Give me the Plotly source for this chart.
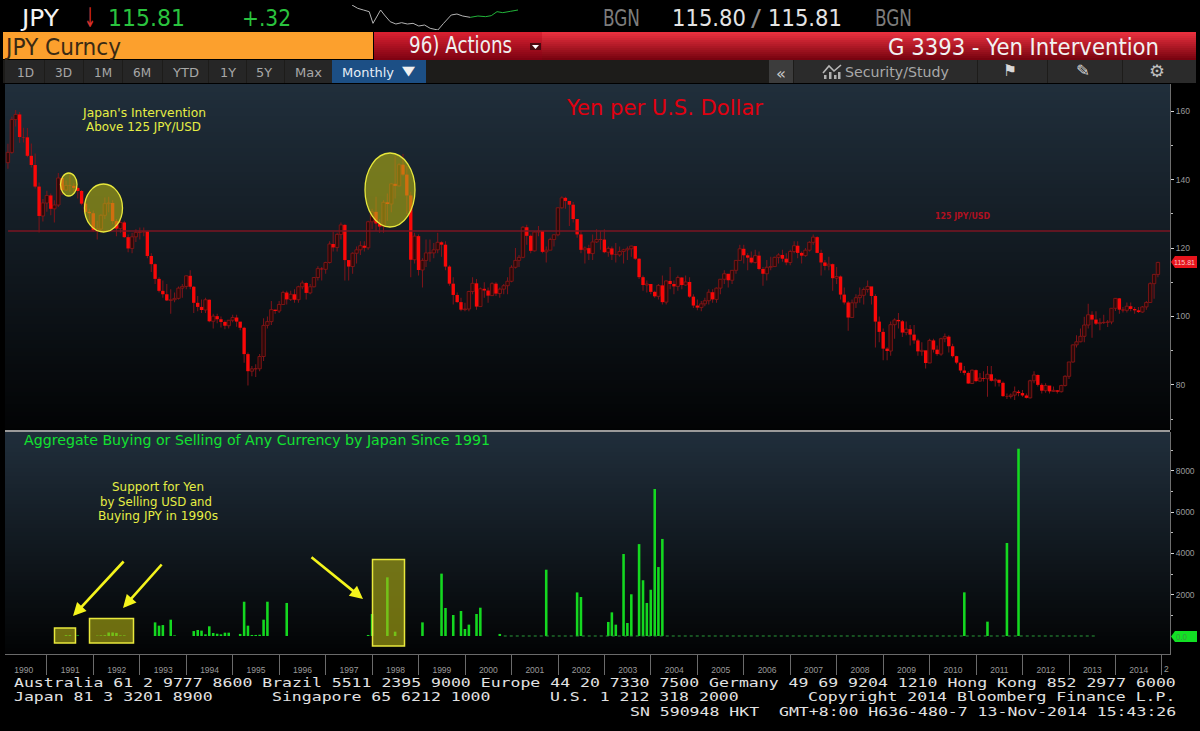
import json
import pandas as pd
import plotly.graph_objects as go

# ---------- data ----------
first_open = 145.0
closes = [
 148.0,157.6,159.1,152.5,152.4,147.0,144.3,138.0,129.4,133.2,135.4,
 131.5,132.6,140.5,137.0,138.3,138.2,137.6,136.7,133.0,130.6,130.2,125.2,
 125.6,129.6,133.0,133.2,127.9,125.7,127.5,123.2,119.9,123.3,124.6,124.7,
 124.9,117.7,115.3,111.0,107.5,106.5,104.7,104.9,105.3,108.3,108.8,111.9,
 108.7,104.0,102.8,101.9,104.9,98.6,100.1,99.2,98.4,97.3,98.9,99.7,
 98.5,96.7,89.0,84.0,84.7,84.7,88.3,97.4,98.5,102.0,101.6,103.5,
 107.0,105.0,106.5,104.9,108.7,109.8,106.9,108.7,111.4,114.0,113.8,115.8,
 121.2,120.2,124.0,126.8,116.5,114.6,118.5,119.5,120.7,120.1,127.7,130.6,
 127.2,126.3,133.4,132.9,138.8,138.2,144.4,141.5,135.4,116.6,123.5,113.6,
 116.4,118.6,118.6,119.5,121.7,121.0,114.6,109.6,106.3,104.2,102.0,102.2,
 107.3,109.7,102.9,108.1,107.6,106.1,109.6,106.7,108.0,109.0,110.3,114.4,
 116.4,117.3,126.1,123.6,119.2,124.7,125.0,118.9,119.4,122.5,123.9,131.8,
 134.7,133.8,132.7,128.5,124.0,119.5,120.0,118.4,121.8,122.5,122.5,118.8,
 119.9,118.1,118.0,119.0,119.5,119.8,120.6,116.9,111.5,109.2,109.5,107.2,
 105.9,109.1,104.2,110.4,109.5,108.8,111.4,109.2,110.1,105.8,103.2,102.6,
 103.7,104.6,107.1,105.0,108.3,110.9,112.5,110.6,113.5,116.4,119.8,117.9,
 117.2,115.8,117.8,113.9,112.5,114.4,114.6,117.3,118.0,116.9,115.8,119.0,
 120.7,118.6,117.8,119.4,121.7,123.2,118.6,115.8,114.8,115.3,111.2,111.7,
 106.4,104.1,99.7,104.0,105.5,106.2,107.9,108.8,106.0,98.5,95.5,90.6,
 89.9,97.6,99.0,98.6,95.3,96.3,94.7,93.0,89.8,90.1,86.4,93.0,
 90.3,89.0,93.5,94.1,91.3,88.4,86.5,84.2,83.5,80.4,84.3,81.1,
 82.0,81.8,83.1,81.2,81.5,80.6,76.7,76.6,77.0,78.0,77.6,76.9,
 76.2,81.2,82.9,80.0,78.3,79.8,78.1,78.4,78.0,79.8,82.5,86.7,
 91.7,92.6,94.2,97.5,100.5,99.1,97.9,98.2,98.3,98.4,102.4,105.3,
 102.0,101.8,103.0,102.2,101.8,101.3,102.8,104.1,109.6,112.3,115.81,
]
highs = [
 150.5,158.4,160.4,159.8,155.2,155.1,150.6,147.7,139.2,134.4,136.8,
 136.0,134.0,142.0,141.0,139.8,141.5,139.0,138.0,137.0,134.0,131.5,131.0,
 128.0,130.0,134.8,135.0,134.0,128.5,128.8,128.0,124.0,124.5,125.5,126.0,
 126.0,125.0,118.5,115.5,111.5,110.5,109.5,108.0,107.0,108.8,109.5,112.0,
 113.5,108.9,106.0,105.0,105.5,105.0,100.8,100.8,100.0,98.8,99.0,100.5,
 100.5,98.0,97.0,89.5,85.5,86.0,89.0,99.5,100.0,104.5,102.0,104.5,
 107.5,107.5,107.5,108.0,109.0,110.5,110.0,109.5,111.5,114.7,114.5,116.0,
 122.0,124.8,124.5,127.5,127.0,116.5,118.8,120.5,122.0,122.0,128.0,131.5,
 135.0,128.5,134.0,136.0,139.0,147.0,144.8,147.5,144.0,136.5,124.5,124.0,
 117.0,122.5,122.5,121.5,124.5,122.0,122.0,115.0,111.5,107.0,105.5,104.0,
 107.5,111.5,111.0,108.5,110.0,108.5,110.0,110.0,108.5,109.5,111.5,115.0,
 120.0,118.0,126.5,126.8,124.0,125.0,126.5,125.0,120.5,123.0,124.0,131.8,
 135.2,135.0,133.5,133.5,128.5,125.0,120.5,121.0,124.0,125.5,125.0,125.5,
 120.5,120.5,121.5,120.5,119.8,120.5,120.7,120.5,117.0,112.0,110.5,109.5,
 107.5,109.5,112.0,110.5,114.5,110.5,112.0,111.5,112.0,111.5,106.5,105.0,
 104.5,105.5,108.0,108.0,108.5,111.0,113.5,112.0,113.5,116.5,121.0,121.0,
 118.5,119.0,119.5,119.0,114.5,116.5,117.5,117.5,118.5,119.5,118.5,119.5,
 122.0,122.0,119.0,120.0,122.0,124.0,123.5,119.5,116.5,117.5,115.5,114.5,
 112.0,108.5,104.5,105.0,106.5,108.5,108.5,110.5,108.5,106.5,100.0,96.5,
 91.0,98.5,99.5,101.0,99.0,98.5,97.5,97.5,93.5,92.5,90.0,93.5,
 93.5,91.5,93.8,95.0,94.5,92.0,88.5,86.5,85.5,84.0,84.5,84.5,
 83.5,84.0,85.5,85.5,82.0,81.5,81.0,77.5,77.5,79.5,78.5,78.5,
 77.5,81.5,84.0,83.0,80.5,80.5,79.5,79.5,78.5,80.0,82.8,86.7,
 91.8,94.5,96.5,99.9,103.7,101.5,101.5,99.5,100.5,99.0,102.5,105.4,
 105.4,102.8,104.1,104.1,102.8,102.8,103.1,104.5,110.0,112.5,116.0,
]
lows = [
 143.2,147.6,155.6,150.8,150.9,146.6,143.6,137.4,124.6,127.8,130.6,
 129.6,127.5,132.0,135.5,136.8,136.5,136.0,134.5,132.5,129.5,128.0,124.8,
 122.5,124.5,128.5,130.5,127.0,123.5,124.5,123.0,118.8,118.5,121.8,122.5,
 123.5,117.0,113.0,109.5,107.0,105.5,104.5,100.8,104.2,105.0,105.5,108.0,
 108.0,101.0,101.5,101.0,101.0,98.3,96.5,98.0,96.8,96.3,96.5,98.3,
 97.0,96.0,86.5,79.8,82.5,82.3,84.0,87.0,96.5,97.5,100.8,101.0,
 103.5,103.5,104.5,104.0,104.0,108.0,105.0,106.5,108.5,110.5,110.5,112.5,
 115.5,119.0,119.0,122.5,110.5,110.5,112.5,115.5,118.0,119.0,119.5,125.5,
 125.0,124.5,124.5,128.0,130.5,134.5,138.0,141.0,130.0,111.5,115.5,112.0,
 108.5,114.5,116.0,117.0,118.5,117.5,113.5,109.0,103.5,104.0,101.5,101.5,
 101.5,106.5,102.0,103.5,105.5,104.0,106.0,106.0,105.5,106.5,106.5,110.0,
 114.0,114.5,117.0,121.0,118.5,119.0,123.5,118.5,115.8,119.5,120.5,123.5,
 131.5,131.5,126.5,127.5,123.0,118.5,115.5,116.5,116.5,121.5,119.5,118.5,
 117.5,116.5,115.8,117.5,115.5,116.5,117.5,116.5,111.0,107.5,107.0,106.5,
 105.5,105.0,103.5,103.5,108.0,106.5,107.5,108.0,109.0,105.5,102.5,101.8,
 101.5,103.0,103.5,104.0,104.0,106.5,109.5,108.5,109.5,112.5,116.5,115.5,
 113.5,115.5,115.5,113.5,109.0,110.5,113.5,114.5,115.5,116.0,115.0,115.0,
 118.5,117.0,115.5,117.5,119.0,121.0,118.5,112.0,113.5,113.5,107.5,109.5,
 105.0,103.5,95.8,100.0,102.5,104.0,103.5,107.0,103.5,90.9,92.5,87.2,
 87.2,88.5,93.5,96.5,94.0,94.5,91.5,92.0,88.5,88.5,84.8,86.5,
 89.5,88.5,88.5,92.5,89.5,88.0,86.0,83.5,82.8,80.3,80.3,80.8,
 81.0,81.0,76.5,81.0,79.5,79.5,76.5,75.9,76.0,75.6,76.7,76.5,
 76.0,76.0,80.5,79.5,77.5,77.7,77.5,78.0,77.5,77.8,79.5,81.7,
 86.5,90.9,92.5,92.5,96.5,93.8,97.5,96.0,97.8,96.9,97.7,101.6,
 100.8,101.2,101.2,101.5,100.8,101.0,101.1,102.0,104.0,105.2,111.5,
]
opens = [first_open] + closes[:-1]
candle_dates = pd.date_range("1990-02-28", periods=len(closes), freq="ME").strftime("%Y-%m-%d").tolist()

bar_dates = [
 "1991-05-31","1991-06-30","1991-08-31",
 "1992-01-31","1992-02-29","1992-03-31","1992-04-30","1992-05-31","1992-06-30","1992-07-31","1992-08-31",
 "1993-04-30","1993-05-31","1993-06-30","1993-08-31","1993-09-30",
 "1994-02-28","1994-03-31","1994-04-30","1994-05-31","1994-06-30","1994-07-31","1994-08-31","1994-09-30","1994-10-31","1994-11-30",
 "1995-02-28","1995-03-31","1995-04-30","1995-05-31","1995-06-30","1995-07-31","1995-08-31","1995-09-30",
 "1996-02-29","1997-11-30","1997-12-31","1998-04-30","1998-06-30",
 "1999-01-31","1999-06-30","1999-07-31","1999-09-30","1999-11-30","1999-12-31",
 "2000-01-31","2000-03-31","2000-04-30","2000-09-30",
 "2001-09-30","2002-05-31","2002-06-30",
 "2003-01-31","2003-02-28","2003-03-31","2003-05-31","2003-06-30","2003-07-31","2003-09-30","2003-10-31","2003-11-30","2003-12-31",
 "2004-01-31","2004-02-29","2004-03-31",
 "2010-09-30","2011-03-31","2011-08-31","2011-11-30",
]
bar_values = [
 40,40,30,
 20,30,40,170,170,150,30,30,
 660,500,530,790,30,
 240,290,260,80,470,145,110,80,160,160,
 100,1660,500,50,50,60,790,1660,
 1600,50,1065,2840,210,
 660,3020,1355,1017,1210,340,
 550,1065,1370,100,
 3210,2110,1890,
 680,1145,550,3970,630,2020,4450,2700,1600,2240,
 7120,3340,4700,
 2114,694,4503,9070,
]
zero_dates = ["2000-10-31", "2013-07-31"]
zero_values = [0, 0]
level_dates = ["1990-03-01", "2015-03-05"]
level_values = [125, 125]

spark_x = [0,15,30,45,55,65,75,85,100,115,130,145,160,175,190,205,225,240,260,275,290,310,330,350,365,380,395,415,435]
spark_y = [85,75,70,65,30,50,70,55,35,28,32,28,30,22,25,15,10,30,55,58,52,48,52,50,53,65,62,66,70]
spark_split = 22

upper_ticks = [80, 100, 120, 140, 160]
lower_ticks = [2000, 4000, 6000, 8000]

W, H = 1200, 731
fx = lambda x: x / W
fy = lambda y: 1 - y / H

PX_L, PX_R = 5, 1170
UP_T, UP_B = 84, 430
LO_T, LO_B = 432, 654

shapes = []
annos = []
widths = []


def rect(x0, y0, x1, y1, fill, line=None, lw=0, layer="below"):
    shapes.append(dict(type="rect", xref="paper", yref="paper", x0=fx(x0), x1=fx(x1), y0=fy(y0), y1=fy(y1),
                       fillcolor=fill, line=dict(color=line or fill, width=lw), layer=layer))


def lerp_hex(c0, c1, t):
    return "#" + "".join(f"{round(a + (b - a) * t):02x}" for a, b in zip(c0, c1))


def vgrad(x0, y0, x1, y1, c0, c1, step=4):
    y = y0
    while y < y1:
        y2 = min(y + step, y1)
        rect(x0, y, x1, y2, lerp_hex(c0, c1, (y - y0) / max(1, y1 - y0)))
        y = y2


def txt(s, x, y, size, color, width=None, family="DejaVu Sans", weight=None):
    font = dict(family=family, size=size, color=color)
    if weight:
        font["weight"] = weight
    annos.append(dict(text=s, xref="paper", yref="paper", x=fx(x), y=fy(y), xanchor="left", yanchor="middle",
                      align="left", showarrow=False, borderpad=0, borderwidth=0, font=font))
    widths.append(width)


def arrow(x0, y0, x1, y1):
    annos.append(dict(text="", xref="paper", yref="paper", x=fx(x1), y=fy(y1), ax=x0 - x1, ay=y0 - y1,
                      showarrow=True, arrowcolor="#f4f41c", arrowwidth=2.6, arrowhead=2, arrowsize=1))
    widths.append(None)


def poly(points, fill):
    path = "M" + " L".join(f"{fx(a)},{fy(b)}" for a, b in points) + " Z"
    shapes.append(dict(type="path", xref="paper", yref="paper", path=path, fillcolor=fill,
                       line=dict(color=fill, width=0), layer="above"))


def tag(x0, y0, x1, y1, fill):
    mid = (y0 + y1) / 2
    poly([(x0, mid), (x0 + 4, y0), (x1, y0), (x1, y1), (x0 + 4, y1)], fill)


# ---------- chrome ----------
vgrad(PX_L, UP_T, PX_R, UP_B, (0x20, 0x2e, 0x3b), (0x02, 0x03, 0x04))
vgrad(PX_L, LO_T, PX_R, LO_B, (0x20, 0x2e, 0x3b), (0x02, 0x03, 0x04))
rect(PX_L, 430, PX_R, 432, "#9a9a9a")

rect(3, 32, 373, 59, "#fca02d")
vgrad(374, 32, 1196, 60, (0xe8, 0x30, 0x3e), (0x70, 0x00, 0x0c), step=2)
vgrad(374, 32, 542, 60, (0xd8, 0x20, 0x30), (0x78, 0x00, 0x10), step=2)
rect(530, 43, 541, 50, "#4a0a10")
poly([(532, 45), (539, 45), (535.5, 49)], "#ffffff")

rect(3, 60, 1196, 83, "#1d1c1a")
for x0, x1 in [(5, 44), (45, 83), (84, 122), (123, 162), (163, 208), (209, 246), (247, 284), (285, 332)]:
    rect(x0, 60, x1, 83, "#262626")
rect(332, 60, 426, 83, "#1c4f85")
rect(769, 60, 793, 83, "#3c3c3c")
for x0, x1 in [(794, 977), (978, 1047), (1048, 1122), (1123, 1196)]:
    rect(x0, 60, x1, 83, "#2b2b2b")

txt("JPY", 20, 18, 23, "#f4f4f4", 37)
txt("↓", 84, 18, 27, "#d8302c", 12)
txt("115.81", 108, 18, 23, "#2ac33e", 77)
txt("+.32", 242, 18, 23, "#2ac33e", 49)
txt("BGN", 603, 18, 23, "#7c7c7c", 37)
txt("115.80", 672, 18, 23, "#e4e4e4", 74)
txt("/", 751, 18, 23, "#8c8c8c", 10)
txt("115.81", 768, 18, 23, "#e4e4e4", 74)
txt("BGN", 875, 18, 23, "#7c7c7c", 37)
txt("JPY Curncy", 4, 47, 23, "#3a2a14", 115)
txt("96) Actions", 409, 45, 23, "#f0f0f0", 103)
txt("G 3393 - Yen Intervention", 888, 47, 23, "#f2f2f2", 271)

for label, cx, w in [("1D", 25, 17), ("3D", 63, 17), ("1M", 103, 18), ("6M", 142, 18), ("YTD", 185, 26),
                     ("1Y", 228, 16), ("5Y", 264, 16), ("Max", 308, 27)]:
    txt(label, cx - w / 2, 72, 13, "#a8a8a8", w)
txt("Monthly", 342, 72, 13, "#e6eef6", 52)
txt("▼", 402, 71, 13, "#f0f0f0", 13)
txt("«", 776, 73, 16, "#c8c8c8", 10)
txt("Security/Study", 845, 72, 13.5, "#a8a8a8", 104)
txt("⚑", 1003, 71, 16, "#d8d8d8", 14)
txt("✎", 1076, 71, 16, "#d8d8d8", 14)
txt("⚙", 1149, 71, 17, "#c0c0c0", 16)
shapes.append(dict(type="path", xref="paper", yref="paper",
                   path=f"M{fx(823)},{fy(73)} L{fx(829)},{fy(66)} L{fx(834)},{fy(71)} L{fx(841)},{fy(65)}",
                   line=dict(color="#b8b8b8", width=1.6), layer="above"))
for bx, top in [(824, 75), (829, 72), (834, 75), (838, 72)]:
    rect(bx, top, bx + 2.5, 79, "#b0b0b0", layer="above")

txt("Japan's Intervention", 82, 113, 12, "#e6ee44", 123)
txt("Above 125 JPY/USD", 86, 127, 12, "#e6ee44", 115)
txt("Yen per U.S. Dollar", 566, 108, 21, "#e00010", 196)
txt("125 JPY/USD", 935, 216, 9, "#b01020", 55, weight=700)
txt("Aggregate Buying or Selling of Any Currency by Japan Since 1991", 24, 440, 14, "#12e030", 466)
txt("Support for Yen", 112, 487, 12.5, "#e6ee44", 92)
txt("by Selling USD and", 100, 501, 12.5, "#e6ee44", 112)
txt("Buying JPY in 1990s", 98, 515, 12.5, "#e6ee44", 120)
arrow(125, 560, 73, 616)
arrow(163, 563, 123, 608)
arrow(310, 556, 363, 599)

HL_FILL = "rgba(180,178,20,0.6)"
HL_LINE = "#e8e83c"
for x0, y0, x1, y1 in [(60.5, 173, 77, 196), (84.5, 184, 122.5, 232), (365, 153, 415, 227)]:
    shapes.append(dict(type="circle", xref="paper", yref="paper", x0=fx(x0), x1=fx(x1), y0=fy(y0), y1=fy(y1),
                       fillcolor=HL_FILL, line=dict(color=HL_LINE, width=1.3), layer="above"))
for x0, y0, x1, y1 in [(54.5, 628, 75.5, 643), (89.5, 618.5, 133.5, 643), (372.5, 559.5, 404.5, 646)]:
    rect(x0, y0, x1, y1, HL_FILL, line=HL_LINE, lw=1.5, layer="above")

tag(1171, 256, 1197, 268, "#e8141c")
txt("115.81", 1174, 262, 8, "#f8c8c8", 21, family="Liberation Sans")
tag(1171, 631, 1197, 642, "#12e024")
txt("0.0", 1176, 636.5, 8.5, "#3a9a40", 11, family="Liberation Sans")
txt("2", 1164, 669, 8.5, "#9a9a9a", family="Liberation Sans")

MONO = "DejaVu Sans Mono"
CHAR = 9.93
for s, x, y in [
    ("Australia 61 2 9777 8600 Brazil 5511 2395 9000 Europe 44 20 7330 7500 Germany 49 69 9204 1210 Hong Kong 852 2977 6000", 14, 682.5),
    ("Japan 81 3 3201 8900", 14, 697),
    ("Singapore 65 6212 1000", 272, 697),
    ("U.S. 1 212 318 2000", 550, 697),
    ("Copyright 2014 Bloomberg Finance L.P.", 808, 697),
    ("SN 590948 HKT", 630, 711.5),
    ("GMT+8:00 H636-480-7 13-Nov-2014 15:43:26", 779, 711.5),
]:
    txt(s, x, y, 12, "#e2e2e2", round(len(s) * CHAR, 1), family=MONO)

# ---------- traces ----------
up = [i for i in range(len(closes)) if closes[i] >= opens[i]]
down = [i for i in range(len(closes)) if closes[i] < opens[i]]
BODY_MS = 2.3e9
WICK_MS = 6.8e8


def range_trace(idx, lo, hi, width, fill, line=None, lw=0):
    return go.Bar(
        x=[candle_dates[i] for i in idx],
        base=[lo[i] for i in idx],
        y=[hi[i] - lo[i] for i in idx],
        width=width, xaxis="x", yaxis="y",
        marker=dict(color=fill, line=dict(color=line or fill, width=lw)), hoverinfo="skip")


body_lo = [min(o, c) for o, c in zip(opens, closes)]
body_hi = [max(o, c) for o, c in zip(opens, closes)]
all_idx = list(range(len(closes)))

fig = go.Figure()
fig.add_trace(range_trace(all_idx, lows, highs, WICK_MS, "#80141a"))
fig.add_trace(range_trace(up, body_lo, body_hi, BODY_MS, "#2a0a0a", "#8e1616", 0.8))
fig.add_trace(range_trace(down, body_lo, body_hi, BODY_MS, "#fa0808"))
fig.add_trace(go.Scatter(x=level_dates, y=level_values, mode="lines", xaxis="x", yaxis="y",
                         line=dict(color="#7a1422", width=1.6), hoverinfo="skip"))
fig.add_trace(go.Scatter(x=zero_dates, y=zero_values, mode="lines", xaxis="x2", yaxis="y2",
                         line=dict(color="#2a9a3a", width=1, dash="dot"), hoverinfo="skip"))
fig.add_trace(go.Bar(x=bar_dates, y=bar_values, xaxis="x2", yaxis="y2", width=1.75e9,
                     marker=dict(color="#14d820", line=dict(width=0)), hoverinfo="skip"))
fig.add_trace(go.Scatter(x=spark_x[:spark_split], y=spark_y[:spark_split], mode="lines", xaxis="x3", yaxis="y3",
                         line=dict(color="#b4b4b4", width=1), hoverinfo="skip"))
fig.add_trace(go.Scatter(x=spark_x[spark_split - 1:], y=spark_y[spark_split - 1:], mode="lines", xaxis="x3", yaxis="y3",
                         line=dict(color="#22b43a", width=1), hoverinfo="skip"))

x_range = ["1990-02-05", "2015-03-05"]
tick_font = dict(family="Liberation Sans", size=8.5, color="#9a9a9a")
y_common = dict(side="right", showgrid=False, zeroline=False, showline=True, linecolor="#6e6e6e", linewidth=1,
                ticks="outside", ticklen=3, tickcolor="#d8d8d8", tickfont=tick_font, fixedrange=True)

fig.update_layout(
    width=W, height=H, margin=dict(l=0, r=0, t=0, b=0), autosize=False,
    paper_bgcolor="#000000", plot_bgcolor="rgba(0,0,0,0)", showlegend=False, barmode="overlay",
    shapes=shapes, annotations=annos,
    xaxis=dict(domain=[fx(PX_L), fx(PX_R)], anchor="y", range=x_range, type="date", visible=False,
               matches="x2"),
    yaxis=dict(domain=[fy(UP_B), fy(UP_T)], anchor="x", range=[66.8, 168], tickvals=upper_ticks,
               minor=dict(tickvals=[70, 90, 110, 130, 150], ticks="outside", ticklen=2, tickcolor="#bbbbbb"),
               **y_common),
    xaxis2=dict(domain=[fx(PX_L), fx(PX_R)], anchor="y2", range=x_range, type="date", tick0="1991-01-01",
                dtick="M12", tickformat="%Y", ticklabelmode="period", ticks="outside", ticklen=20,
                ticklabelstandoff=-12, tickcolor="#6a6a6a", showline=True, linecolor="#6a6a6a", showgrid=False,
                zeroline=False, tickfont=tick_font, fixedrange=True),
    yaxis2=dict(domain=[fy(LO_B), fy(LO_T)], anchor="x2", range=[-872, 9879], tickvals=lower_ticks,
                minor=dict(tickvals=[1000, 3000, 5000, 7000, 9000], ticks="outside", ticklen=2, tickcolor="#bbbbbb"),
                **y_common),
    xaxis3=dict(domain=[fx(352), fx(518)], anchor="y3", range=[0, 435], visible=False, fixedrange=True),
    yaxis3=dict(domain=[fy(30), fy(5)], anchor="x3", range=[10, 85], visible=False, fixedrange=True),
)

post = """
document.body.style.margin='0';
document.body.style.background='#000';
document.documentElement.style.overflow='hidden';
var W=%s;
document.querySelectorAll('.annotation').forEach(function(g){
  var w=W[+g.getAttribute('data-index')];
  if(!w) return;
  var t=g.querySelector('text');
  if(!t) return;
  t.setAttribute('textLength',w);
  t.setAttribute('lengthAdjust','spacingAndGlyphs');
});
""" % json.dumps(widths)

fig.write_html("out.html", post_script=post, config=dict(displayModeBar=False, staticPlot=True))
